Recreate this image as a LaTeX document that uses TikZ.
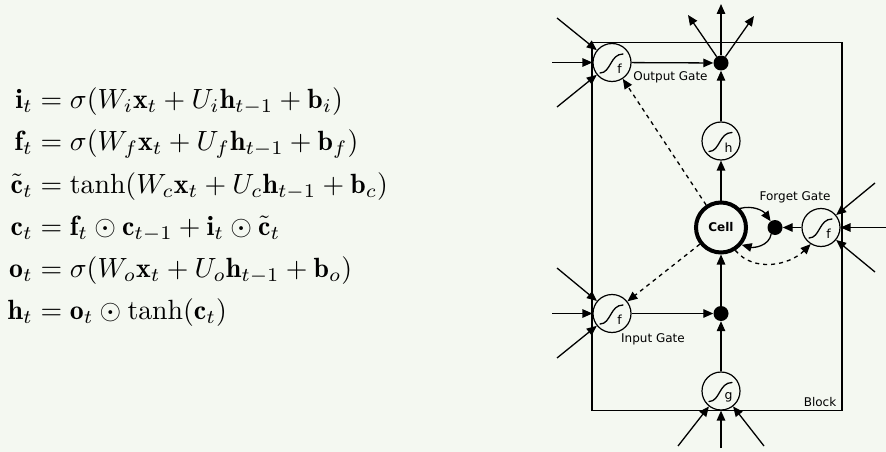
\documentclass[tikz,border=0pt]{standalone}
\usepackage{amsmath}
\usepackage{fontspec}
\newfontfamily\dejavu{DejaVu Sans}
\usetikzlibrary{arrows.meta,calc}
\definecolor{bgcol}{RGB}{244,248,241}
\begin{document}
\begin{tikzpicture}[x=1pt,y=1pt,
  >={Triangle[length=10pt,width=8.5pt]},
  gate/.style={circle,draw,fill=bgcol,line width=1.2pt,minimum size=38pt,inner sep=0pt},
  dotn/.style={circle,fill=black,minimum size=15pt,inner sep=0pt},
  cellnode/.style={circle,draw,fill=bgcol,line width=4pt,minimum size=50pt,inner sep=0pt,
    font=\dejavu\bfseries\fontsize{12}{14}\selectfont},
  blockbox/.style={draw,line width=1.5pt,inner sep=0pt},
  lbl/.style={font=\dejavu\fontsize{12}{14}\selectfont,inner sep=0pt},
  gl/.style={font=\dejavu\fontsize{12.5}{14}\selectfont,inner sep=0pt},
  conn/.style={->,line width=1.3pt},
  dconn/.style={conn,dash pattern=on 4pt off 4pt},
  sigm/.pic={\draw[line width=1.3pt,line cap=round] (-12,-10.5) .. controls (-1,-10.5) and (-2,8.5) .. (11,8.5);}
]
\fill[bgcol] (0,0) rectangle (886,-452);
\useasboundingbox (0,0) rectangle (886,-452);

% equations
\node[anchor=west,inner sep=0pt,scale=2.78] (eqs) at (7,-207.5) {\setlength{\jot}{3.2pt}$\begin{aligned}
\mathbf{i}_t &= \sigma(W_i\mathbf{x}_t + U_i\mathbf{h}_{t-1} + \mathbf{b}_i)\\
\mathbf{f}_t &= \sigma(W_f\mathbf{x}_t + U_f\mathbf{h}_{t-1} + \mathbf{b}_f)\\
\tilde{\mathbf{c}}_t &= \tanh(W_c\mathbf{x}_t + U_c\mathbf{h}_{t-1} + \mathbf{b}_c)\\
\mathbf{c}_t &= \mathbf{f}_t \odot \mathbf{c}_{t-1} + \mathbf{i}_t \odot \tilde{\mathbf{c}}_t\\
\mathbf{o}_t &= \sigma(W_o\mathbf{x}_t + U_o\mathbf{h}_{t-1} + \mathbf{b}_o)\\
\mathbf{h}_t &= \mathbf{o}_t \odot \tanh(\mathbf{c}_t)
\end{aligned}$};

% block
\node[blockbox,minimum width=250pt,minimum height=368pt] (block) at (717,-226.5) {};

% nodes
\node[gate] (og) at (612,-62.5) {};
\node[dotn] (odot) at (721,-63) {};
\node[gate] (hg) at (721,-141) {};
\node[cellnode] (cell) at (721,-227.5) {Cell};
\node[dotn] (fdot) at (775,-227.5) {};
\node[gate] (fg) at (821,-227.5) {};
\node[gate] (ig) at (612,-313.5) {};
\node[dotn] (idot) at (721,-313.5) {};
\node[gate] (gg) at (721,-391) {};

% sigmoid symbols and letters
\foreach \g/\l in {og/f,hg/h,fg/f,ig/f,gg/g}{
  \pic at (\g) {sigm};
  \node[gl] (\g-l) at ($(\g)+(7.5,-6.5)$) {\l};
}

% labels
\node[lbl] (outlbl) at (670.5,-77) {Output Gate};
\node[lbl] (fglbl) at (795,-197) {Forget Gate};
\node[lbl] (iglbl) at (653,-339) {Input Gate};
\node[lbl] (blocklbl) at (820,-402) {Block};

% free ends
\coordinate (o1) at (721,-4);
\coordinate (o2) at (688,-15);
\coordinate (o3) at (754,-16);
\coordinate (a1) at (557,-18);
\coordinate (a2) at (552,-62.5);
\coordinate (a3) at (557,-107);
\coordinate (b1) at (557,-268);
\coordinate (b2) at (552,-313.5);
\coordinate (b3) at (557,-358);
\coordinate (c1) at (875,-183);
\coordinate (c2) at (886,-227.5);
\coordinate (c3) at (875,-272);
\coordinate (d1) at (678,-446);
\coordinate (d2) at (721,-448);
\coordinate (d3) at (764,-446);

% connectors
\draw[conn] (og) -- (odot);
\draw[conn] (hg) -- (odot);
\draw[conn] (cell) -- (hg);
\draw[conn] (idot) -- (cell);
\draw[conn] (gg) -- (idot);
\draw[conn] (ig) -- (idot);
\draw[conn] (fg) -- (fdot);
\draw[conn] (cell.45) to[out=15,in=125] (fdot);
\draw[conn] (fdot.-120) to[out=-100,in=-15] (cell.-40);
\draw[dconn] (cell.-58) to[out=-50,in=-135] (fg.-122);
\draw[dconn] (cell) -- (og);
\draw[dconn] (cell) -- (ig);
\foreach \c in {o1,o2,o3}{\draw[conn] (odot) -- (\c);}
\foreach \c in {a1,a2,a3}{\draw[conn] (\c) -- (og);}
\foreach \c in {b1,b2,b3}{\draw[conn] (\c) -- (ig);}
\foreach \c in {c1,c2,c3}{\draw[conn] (\c) -- (fg);}
\foreach \c in {d1,d2,d3}{\draw[conn] (\c) -- (gg);}
\end{tikzpicture}
\end{document}
